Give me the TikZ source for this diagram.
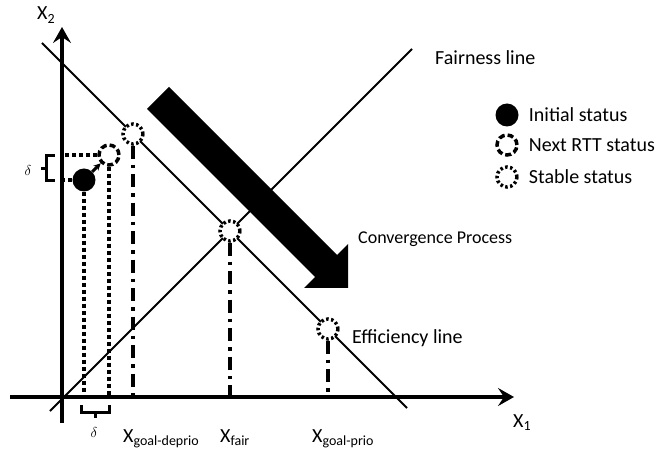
\documentclass[tikz,border=0pt]{standalone}
\usepackage{fontspec}
\setmainfont{Carlito}
\usetikzlibrary{arrows.meta,positioning}

\begin{document}
\begin{tikzpicture}
    [x=1pt,y=1pt,
    every node/.style={font=\fontsize{20}{24}\selectfont,inner sep=0pt},
    axisline/.style={line width=4.5pt,-{Stealth[length=16pt,width=18pt,inset=6pt]}},
    thinline/.style={line width=2pt},
    projline/.style={line width=4pt,dash pattern=on 4pt off 3pt},
    dropline/.style={line width=4pt,dash pattern=on 13pt off 6pt on 3.5pt off 6pt},
    bracketline/.style={line width=3pt},
    initpt/.style={circle,fill=black,minimum size=23pt},
    nextpt/.style={circle,draw,fill=white,line width=3.5pt,dash pattern=on 6pt off 3pt,minimum size=20pt},
    stablept/.style={circle,draw,fill=white,line width=3.5pt,dash pattern=on 2.5pt off 2.5pt,minimum size=20pt}]
    \useasboundingbox (-62,-58) rectangle (599,397);
    % axes
    \coordinate (O) at (0,0);
    \coordinate (xstart) at (-52,0);
    \coordinate (xend) at (452,0);
    \coordinate (ystart) at (0,-26);
    \coordinate (yend) at (0,370);
    \draw[axisline] (xstart) -- (xend);
    \draw[axisline] (ystart) -- (yend);
    \node[anchor=base west] (xone) at (451,-30) {X\textsubscript{1}};
    \node[anchor=base west] (xtwo) at (-25,377) {X\textsubscript{2}};
    % efficiency and fairness lines
    \coordinate (effstart) at (-20,354);
    \coordinate (effend) at (345,-11);
    \coordinate (fairstart) at (-12,-14);
    \coordinate (fairend) at (350,348);
    \draw[thinline] (effstart) -- (effend);
    \draw[thinline] (fairstart) -- (fairend);
    \node[anchor=west] (efflbl) at (290,59) {Efficiency line};
    \node[anchor=west] (fairlbl) at (373,339) {Fairness line};
    % convergence arrow
    \fill (107,310) -- (275,142) -- (286,153) -- (286,109) -- (242,109)
      -- (253,120) -- (85,288) -- cycle;
    \node[anchor=west,font=\fontsize{18}{22}\selectfont] (convlbl) at (296,158)
      {Convergence Process};
    % stable points
    \node[stablept] (deprio) at (71,263) {};
    \node[stablept] (fair) at (168,166) {};
    \node[stablept] (prio) at (266,68) {};
    \foreach \p in {deprio,fair,prio}
      \draw[dropline] (\p.south) -- (\p.south |- O);
    \node[anchor=base west] (lbldeprio) at (61,-45) {X\textsubscript{goal-deprio}};
    \node[anchor=base west] (lblfair) at (158,-45) {X\textsubscript{fair}};
    \node[anchor=base west] (lblprio) at (250,-45) {X\textsubscript{goal-prio}};
    % initial and next status
    \node[initpt] (init) at (22,217) {};
    \node[nextpt] (next) at (47,242) {};
    \draw[line width=3pt,-{Stealth[length=7pt,width=7pt]}] (init) -- (next);
    \draw[projline] (init.south) -- (init.south |- O);
    \draw[projline] (next.south) -- (next.south |- O);
    \draw[projline] (init.west) -- (init.west -| O);
    \draw[projline] (next.west) -- (next.west -| O);
    % delta brackets
    \draw[bracketline] (-7,241) -- (-15,241) -- (-15,216) -- (-7,216);
    \draw[bracketline] (-15,228.5) -- (-21,228.5);
    \node[font=\fontsize{15}{17}\selectfont] (dlleft) at (-34,226) {$\delta$};
    \draw[bracketline] (20,-8) -- (20,-15) -- (47,-15) -- (47,-8);
    \draw[bracketline] (33.5,-15) -- (33.5,-21);
    \node[font=\fontsize{15}{17}\selectfont] (dlbottom) at (32,-35) {$\delta$};
    % legend
    \node[initpt] (leginit) at (445,282) {};
    \node[nextpt] (legnext) at (445,252) {};
    \node[stablept] (legstable) at (445,220) {};
    \node[right=10pt of leginit] (txtinit) {Initial status};
    \node[right=10pt of legnext] (txtnext) {Next RTT status};
    \node[right=10pt of legstable] (txtstable) {Stable status};
\end{tikzpicture}
\end{document}
